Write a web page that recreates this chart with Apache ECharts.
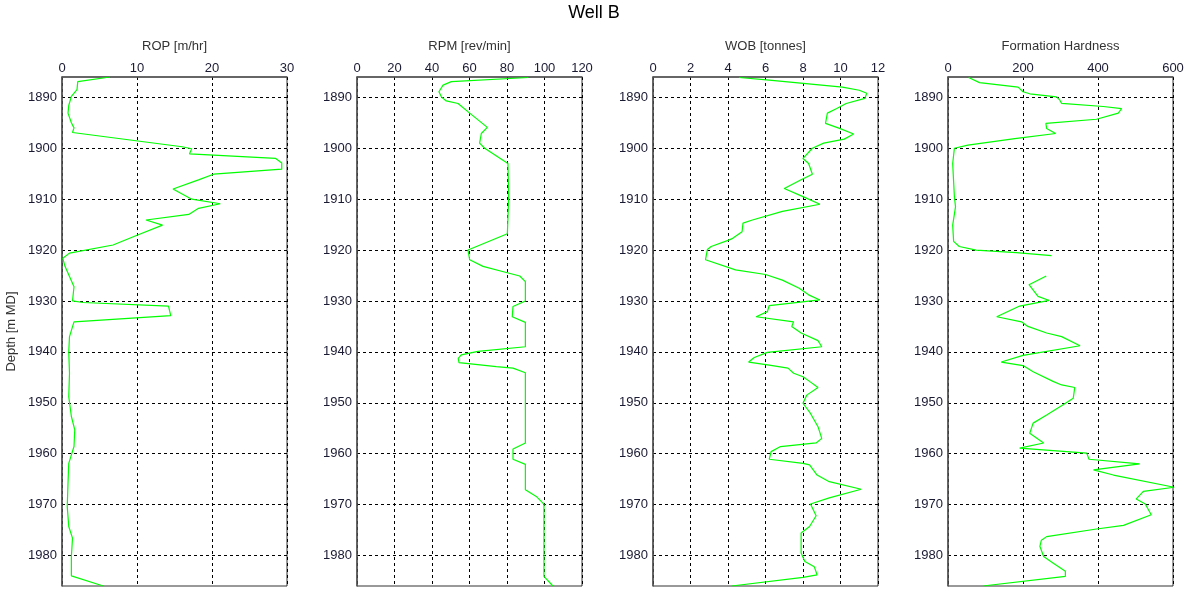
<!DOCTYPE html>
<html>
<head>
<meta charset="utf-8">
<script src="https://cdn.jsdelivr.net/npm/echarts@6/dist/echarts.min.js"></script>
<style>
html,body{margin:0;padding:0;background:#fff;}
#chart{width:1188px;height:590px;}
</style>
</head>
<body>
<div id="chart"></div>
<script>
// ---- Data ----
const depthTicks = [1890, 1900, 1910, 1920, 1930, 1940, 1950, 1960, 1970, 1980];

const ropDepth = [1886, 1886.9, 1888.5, 1889.8, 1891.6, 1893.1, 1895, 1896, 1896.9, 1899.7, 1900.1, 1901.1, 1902, 1902.9, 1904.1, 1905.1, 1906.2, 1908, 1910, 1910.9, 1911.8, 1913, 1914.1, 1915.1, 1917.1, 1919, 1920.6, 1921.6, 1923.2, 1927.2, 1930, 1930.3, 1931, 1932.9, 1934.1, 1937, 1940, 1944.2, 1948.8, 1952.7, 1955.3, 1958.6, 1961.9, 1965.8, 1970.4, 1974.3, 1976.6, 1980.2, 1984, 1986];
const ropValue = [6.4, 2.1, 2.0, 1.25, 0.9, 0.8, 1.25, 1.6, 1.4, 16.0, 17.3, 17.0, 28.5, 29.3, 29.3, 20.2, 18.2, 14.8, 17.3, 21.1, 18.2, 16.9, 11.2, 13.4, 10.0, 6.8, 1.0, 0.1, 0.4, 1.6, 1.4, 2.8, 14.2, 14.5, 1.6, 1.0, 0.9, 1.0, 0.9, 1.25, 1.7, 1.6, 0.9, 0.8, 0.7, 0.9, 1.4, 1.25, 1.25, 5.5];

const rpmDepth = [1886.1, 1886.9, 1887.6, 1888.9, 1889.9, 1890.7, 1891.2, 1893.1, 1895.9, 1897.1, 1899, 1900, 1903, 1909.5, 1916.8, 1920, 1921.9, 1923.2, 1924.4, 1925.1, 1926.2, 1930, 1931.1, 1933.1, 1934.2, 1939, 1939.9, 1940.6, 1941.3, 1942.1, 1942.9, 1943.2, 1944.1, 1957.9, 1959.1, 1961.1, 1962.1, 1967.1, 1968.4, 1969.9, 1984.1, 1986];
const rpmValue = [91.4, 50.3, 45.9, 43.7, 45.0, 47.6, 53.9, 60.1, 69.5, 66.3, 65.4, 68.1, 80.5, 80.9, 80.2, 59.2, 60.1, 67.2, 79.6, 86.8, 89.8, 89.8, 83.2, 82.8, 89.8, 89.8, 64.5, 55.6, 54.0, 54.4, 74.3, 83.2, 89.8, 89.8, 83.2, 83.2, 89.8, 89.8, 95.6, 99.7, 99.7, 104.5];

const wobDepth = [1886.1, 1886.6, 1888.0, 1888.6, 1889.2, 1890.2, 1891.2, 1892.2, 1893.1, 1895.1, 1896.1, 1897.2, 1898.2, 1899, 1900, 1902, 1903, 1905.1, 1906.2, 1907.9, 1909.5, 1911, 1912.4, 1914.1, 1914.7, 1916.4, 1917.7, 1918.1, 1919.3, 1919.9, 1921.9, 1923.9, 1924.8, 1925.9, 1927.5, 1928.8, 1929.8, 1930.9, 1932.1, 1933.1, 1934.1, 1935, 1936.3, 1937.8, 1939, 1940.1, 1941.1, 1942, 1942.6, 1943.2, 1944.2, 1944.9, 1945.8, 1947, 1948.5, 1950.1, 1952.1, 1954.7, 1957, 1957.9, 1958.6, 1959.6, 1961.1, 1961.9, 1962.2, 1964.2, 1965.5, 1967, 1968.7, 1969.9, 1972.2, 1974.3, 1975.6, 1979.5, 1981.2, 1982.2, 1983.8, 1984.3, 1986];
const wobValue = [4.6, 6.2, 10.1, 11.0, 11.4, 11.3, 10.3, 9.8, 9.3, 9.2, 9.95, 10.7, 10.2, 9.1, 8.5, 8.0, 8.3, 8.5, 7.9, 7.0, 8.0, 8.9, 6.9, 5.3, 4.8, 4.75, 4.25, 4.0, 3.1, 2.9, 2.8, 4.4, 6.0, 6.9, 7.8, 8.3, 8.9, 6.2, 6.1, 5.5, 7.5, 7.4, 7.9, 8.8, 9.0, 6.1, 5.4, 5.1, 6.2, 7.2, 7.5, 8.0, 8.35, 8.8, 8.2, 8.0, 8.4, 8.8, 9.0, 8.7, 6.8, 6.3, 6.2, 8.0, 8.35, 8.75, 9.4, 11.1, 9.4, 8.4, 8.7, 8.35, 7.9, 7.9, 8.1, 8.6, 8.75, 8.0, 4.2];

const hardDepth = [1886.1, 1887.1, 1888, 1888.9, 1889.3, 1889.9, 1890.5, 1891.2, 1891.8, 1892.2, 1893.1, 1894.3, 1895.1, 1896.1, 1897.1, 1898.1, 1899.4, 1900, 1903, 1909.5, 1911.5, 1915.1, 1918.3, 1919.3, 1920, 1920.5, 1921.1, 1923, 1925.1, 1926.8, 1929.1, 1929.9, 1931, 1933.1, 1934.1, 1935, 1936.3, 1937, 1938.8, 1940.7, 1942, 1942.7, 1943.9, 1945.8, 1946.5, 1947, 1949.1, 1950.4, 1952.4, 1954, 1956, 1957.9, 1958.9, 1959.9, 1961.1, 1962, 1963.2, 1964.2, 1966.6, 1967.4, 1968.9, 1969.9, 1972, 1974.1, 1974.8, 1976.3, 1977, 1978.2, 1980.2, 1981.5, 1983.1, 1984.1, 1986];
const hardValue = [55, 84, 187, 200, 218, 289, 298, 303, 414, 463, 454, 396, 261, 263, 287, 178, 53, 17, 12.5, 17, 20, 12.5, 15, 30, 75, 182, 276, null, 262, 216, 240, 270, 191, 130, 196, 213, 263, 303, 352, 200, 142, 200, 227, 280, 303, 338, 334, 307, 263, 227, 218, 255, 191, 370, 376, 511, 388, 441, 603, 521, 502, 526, 542, 468, 396, 263, 249, 245, 255, 280, 313, 313, 93];

const panels = [
  {name: 'ROP [m/hr]', min: 0, max: 30, interval: 10, depth: ropDepth, value: ropValue},
  {name: 'RPM [rev/min]', min: 0, max: 120, interval: 20, depth: rpmDepth, value: rpmValue},
  {name: 'WOB [tonnes]', min: 0, max: 12, interval: 2, depth: wobDepth, value: wobValue},
  {name: 'Formation Hardness', min: 0, max: 600, interval: 200, depth: hardDepth, value: hardValue}
];

// ---- Chart ----
const chart = echarts.init(document.getElementById('chart'));
const lefts = [62, 357, 653, 948];
const font = 'Liberation Sans, Arial, sans-serif';
const grids = [], xAxes = [], yAxes = [], series = [];

panels.forEach((p, i) => {
  grids.push({left: lefts[i], top: 77, width: 225, height: 509, show: true, borderColor: '#333', borderWidth: 1, backgroundColor: 'transparent'});
  xAxes.push({
    type: 'value', gridIndex: i, position: 'top', min: p.min, max: p.max, interval: p.interval,
    name: p.name, nameLocation: 'middle', nameGap: 24,
    nameTextStyle: {fontFamily: font, fontSize: 13, color: '#333'},
    axisLine: {show: true, lineStyle: {color: '#555', width: 1.5}},
    axisTick: {show: false},
    axisLabel: {fontFamily: font, fontSize: 13, color: '#1a1a33', margin: 2},
    splitLine: {show: true, lineStyle: {color: '#000', type: [3, 3], width: 1}}
  });
  yAxes.push({
    type: 'value', gridIndex: i, inverse: true, min: 1886, max: 1986,
    name: i === 0 ? 'Depth [m MD]' : '', nameLocation: 'middle', nameGap: 44, nameRotate: 90,
    nameTextStyle: {fontFamily: font, fontSize: 13, color: '#333'},
    axisLine: {show: true, lineStyle: {color: '#555', width: 1.5}},
    axisTick: {show: false, customValues: depthTicks},
    axisLabel: {fontFamily: font, fontSize: 13, color: '#1a1a33', margin: 5, customValues: depthTicks,
      formatter: v => String(v)},
    splitLine: {show: true, lineStyle: {color: '#000', type: [3, 3], width: 1}}
  });
  series.push({
    type: 'line', xAxisIndex: i, yAxisIndex: i, showSymbol: false, symbol: 'none',
    connectNulls: false, animation: false,
    lineStyle: {color: '#00ff00', width: 1.2},
    data: p.value.map((v, k) => [v, p.depth[k]])
  });
});

chart.setOption({
  animation: false,
  backgroundColor: '#fff',
  title: {text: 'Well B', left: 'center', top: -1, textStyle: {fontFamily: font, fontSize: 18, fontWeight: 'normal', color: '#000'}},
  grid: grids, xAxis: xAxes, yAxis: yAxes, series: series
});
</script>
</body>
</html>
